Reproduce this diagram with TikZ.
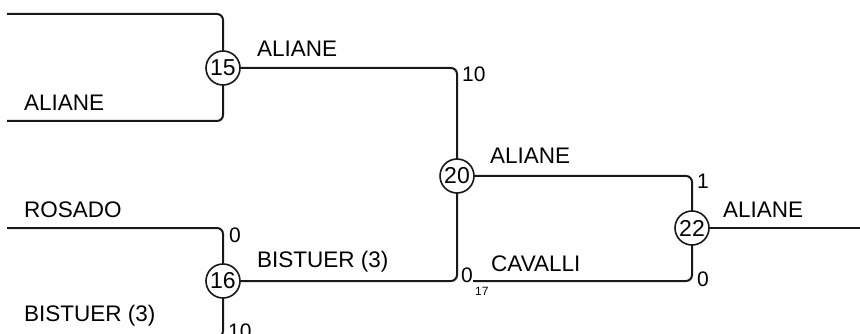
\documentclass[tikz,border=0pt]{standalone}
\usepackage{fontspec}
\setmainfont{Liberation Sans}
\begin{document}
\begin{tikzpicture}[x=1pt,y=-1pt,
  link/.style={line width=2pt, rounded corners=6pt, color=black!90},
  match/.style={circle, draw=black!90, line width=1.6pt, fill=white, minimum size=34pt, inner sep=0pt, font=\fontsize{23}{23}\selectfont},
  team/.style={anchor=base west, inner sep=0pt, font=\fontsize{22.5}{22.5}\selectfont},
  score/.style={anchor=base west, inner sep=0pt, font=\fontsize{21}{21}\selectfont},
  tiny/.style={anchor=base west, inner sep=0pt, font=\fontsize{12}{12}\selectfont}]
\clip (0,0) rectangle (860,334);
\useasboundingbox (0,0) rectangle (860,334);
% coordinates
\coordinate (tl) at (7,14);
\coordinate (bl) at (7,121);
\coordinate (rl) at (7,228);
\coordinate (bbl) at (7,337);
\coordinate (c17) at (473,281);
\coordinate (out) at (862,228);
% connectors
\draw[link] (tl) -| (223,68);
\draw[link] (bl) -| (223,68);
\draw[link] (223,68) -| (457,176);
\draw[link] (457,176) -| (692,228);
\draw[link] (457,176) |- (223,281);
\draw[link] (c17) -| (692,228);
\draw[link] (692,228) -- (out);
\draw[link] (rl) -| (223,281);
\draw[link] (bbl) -| (223,281);
% nodes
\node[match] (n15) at (223,68) {15};
\node[match] (n20) at (457,176) {20};
\node[match] (n22) at (692,228) {22};
\node[match] (n16) at (223,281) {16};
% labels
\node[team] (t1) at (257,57) {ALIANE};
\node[team] (t2) at (24,111) {ALIANE};
\node[team] (t3) at (24,218) {ROSADO};
\node[team] (t4) at (24,321) {BISTUER (3)};
\node[team] (t5) at (257,267) {BISTUER (3)};
\node[team] (t6) at (490,164) {ALIANE};
\node[team] (t7) at (491,271) {CAVALLI};
\node[team] (t8) at (723,218) {ALIANE};
\node[score] (s1) at (462,82) {10};
\node[score] (s2) at (697,189) {1};
\node[score] (s3) at (697,286) {0};
\node[score] (s4) at (461,282) {0};
\node[tiny] (s5) at (475,295) {17};
\node[score] (s6) at (229,242) {0};
\node[score] (s7) at (228,338) {10};
\end{tikzpicture}
\end{document}
